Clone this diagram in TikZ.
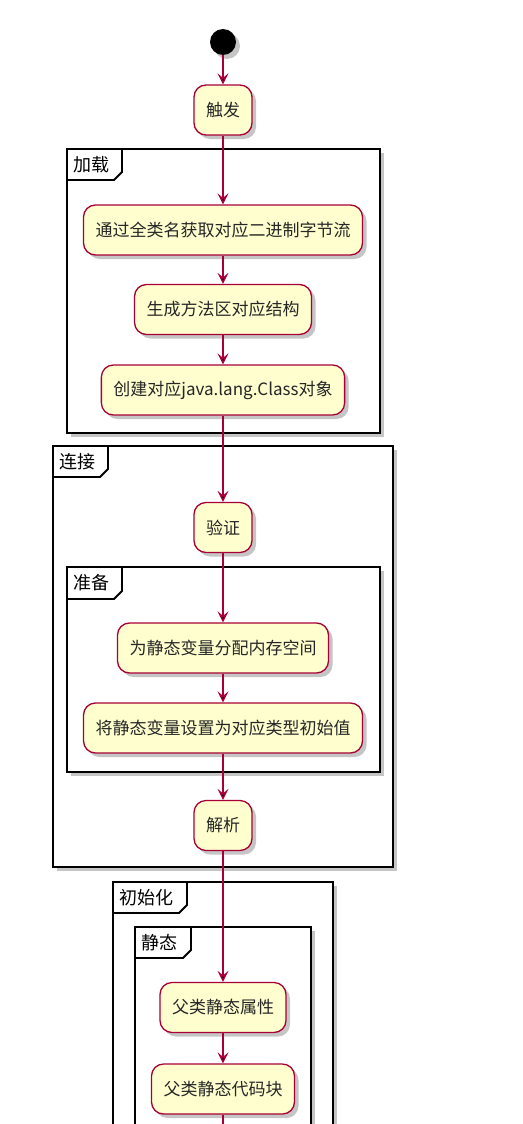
\documentclass[tikz,border=0pt]{standalone}
\usepackage{fontspec}
\newfontfamily\cjk{Noto Sans CJK SC}
\usetikzlibrary{arrows.meta}
\usetikzlibrary{shadows}
\definecolor{umlred}{HTML}{A80036}
\definecolor{umlfill}{HTML}{FEFECE}
\tikzset{
semithick, % All lines semithick
>={Stealth[length=11pt,width=11pt,inset=4.5pt]}, % PlantUML-like arrow tips
my shadow/.style={drop shadow={shadow xshift=4pt,shadow yshift=-4pt,opacity=0.45,fill=black!50}},
my action/.style={draw=umlred,fill=umlfill,line width=1.3pt,rounded corners=12pt,
  minimum height=50pt,inner xsep=12pt,font=\cjk\fontsize{17}{19}\selectfont,text=black!85,my shadow},
my start/.style={circle,fill=black,minimum size=26pt,inner sep=0pt,my shadow},
my frame/.style={draw=black,line width=2.6pt,fill=white,my shadow},
my tab/.style={draw=black,line width=1.8pt},
frame label/.style={anchor=west,inner sep=0pt,font=\cjk\fontsize{18}{20}\selectfont},
flow/.style={draw=umlred,line width=1.3pt},
}
\begin{document}
\begin{tikzpicture}[x=1pt,y=-1pt]
\useasboundingbox[fill=white] (0,0) rectangle (522,1124);
\clip (0,0) rectangle (522,1124);
% frames: left/top/right/bottom/tab x/tab y/label/name
\foreach \x/\y/\X/\Y/\tx/\ty/\lab/\nm in {
  67/149/380/433/122/180/加载/load,
  53/446/393/867/108/477/连接/link,
  67/567/380/772/122/599/准备/prep,
  113/882/333/1170/187/913/初始化/init,
  135/927/311/1170/191/958/静态/stat}
{
  \draw[my frame] (\x,\y) rectangle (\X,\Y);
  \draw[my tab] (\x,\ty) -- (\tx-8,\ty) -- (\tx,\ty-8) -- (\tx,\y);
  \node[frame label] (\nm) at (\x+6,{(\y+\ty)/2}) {\lab};
}
% actions
\node[my start] (start) at (223,42) {};
\node[my action] (trig) at (223,110) {触发};
\node[my action] (name) at (223,230) {通过全类名获取对应二进制字节流};
\node[my action] (meth) at (223,309.5) {生成方法区对应结构};
\node[my action] (cls) at (223,390) {创建对应java.lang.Class对象};
\node[my action] (verify) at (223,527.5) {验证};
\node[my action] (alloc) at (223,648) {为静态变量分配内存空间};
\node[my action] (zero) at (223,728) {将静态变量设置为对应类型初始值};
\node[my action] (resolve) at (223,825.5) {解析};
\node[my action] (pattr) at (223,1007.5) {父类静态属性};
\node[my action] (pblock) at (223,1089) {父类静态代码块};
\coordinate (more) at (223,1135);
\path[->,flow]
  (start) edge (trig)
  (trig) edge (name)
  (name) edge (meth)
  (meth) edge (cls)
  (cls) edge (verify)
  (verify) edge (alloc)
  (alloc) edge (zero)
  (zero) edge (resolve)
  (resolve) edge (pattr)
  (pattr) edge (pblock);
\draw[flow] (pblock) -- (more);
\end{tikzpicture}
\end{document}
